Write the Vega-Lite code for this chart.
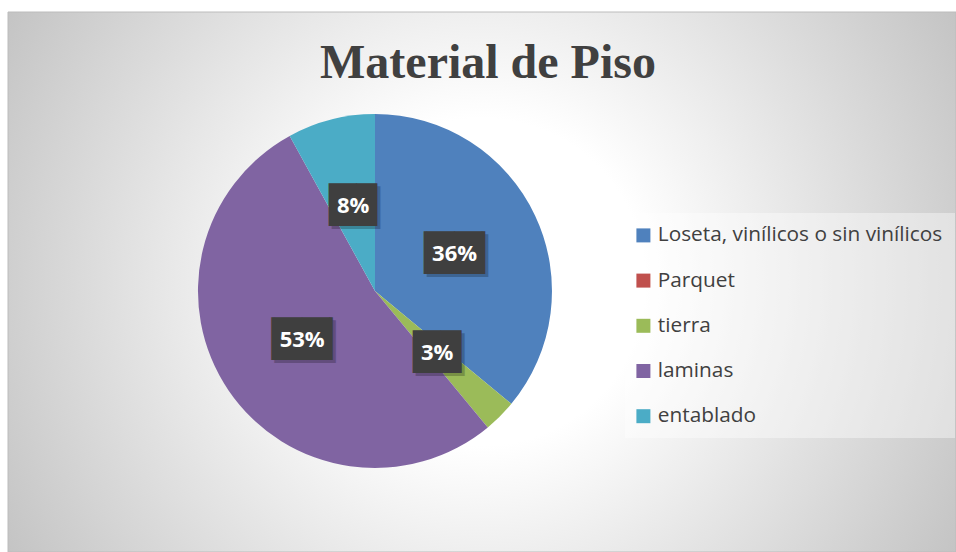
{
  "$schema": "https://vega.github.io/schema/vega-lite/v6.json",
  "width": 948,
  "height": 540,
  "padding": {"left": 8, "top": 12, "right": 0, "bottom": 0},
  "autosize": {"type": "none"},
  "background": "white",
  "config": {"view": {"stroke": null}},
  "title": {
    "text": "Material de Piso",
    "font": "Liberation Serif",
    "fontSize": 48,
    "fontWeight": "bold",
    "color": "#404040",
    "anchor": "middle",
    "frame": "group",
    "baseline": "alphabetic",
    "offset": -114,
    "dx": 6
  },
  "data": {
    "values": [
      {"material": "Loseta, vinílicos o sin vinílicos", "pct": 0.36, "idx": 1},
      {"material": "Parquet", "pct": 0.0, "idx": 2},
      {"material": "tierra", "pct": 0.03, "idx": 3},
      {"material": "laminas", "pct": 0.53, "idx": 4},
      {"material": "entablado", "pct": 0.08, "idx": 5}
    ]
  },
  "layer": [
    {
      "data": {"values": [{}]},
      "mark": {
        "type": "rect",
        "stroke": "#bcbcbc",
        "strokeWidth": 1,
        "fill": {
          "gradient": "radial",
          "x1": 0.5, "y1": 0.5, "r1": 0,
          "x2": 0.5, "y2": 0.5, "r2": 0.575,
          "stops": [
            {"offset": 0, "color": "#ffffff"},
            {"offset": 0.3, "color": "#ffffff"},
            {"offset": 1, "color": "#c4c4c4"}
          ]
        }
      },
      "encoding": {}
    },
    {
      "mark": {"type": "arc", "outerRadius": 177, "x": {"expr": "width * 0.3871"}, "y": {"expr": "height * 0.5167"}},
      "encoding": {
        "theta": {"field": "pct", "type": "quantitative", "stack": true},
        "order": {"field": "idx", "type": "quantitative"},
        "color": {
          "field": "material",
          "type": "nominal",
          "scale": {
            "domain": ["Loseta, vinílicos o sin vinílicos", "Parquet", "tierra", "laminas", "entablado"],
            "range": ["#4F81BD", "#C0504D", "#9BBB59", "#8064A2", "#4BACC6"]
          },
          "legend": {
            "title": null,
            "orient": "none",
            "legendX": 617,
            "legendY": 201,
            "fillColor": "rgba(255,255,255,0.4)",
            "padding": 12,
            "symbolType": "square",
            "symbolSize": 196,
            "symbolStrokeWidth": 0,
            "symbolOpacity": 1,
            "symbolOffset": -4,
            "labelFont": "Open Sans",
            "labelFontSize": 20.8,
            "labelColor": "#404040",
            "labelLimit": 400,
            "labelOffset": 4,
            "rowPadding": 23.2
          }
        }
      }
    },
    {
      "mark": {"type": "text", "radius": 88, "x": {"expr": "width * 0.3871"}, "y": {"expr": "height * 0.5167"}, "font": "DejaVu Sans", "fontSize": 36, "baseline": "middle", "align": "center", "color": "#000000", "opacity": 0.22, "dx": 3, "dy": 3},
      "encoding": {
        "theta": {"field": "pct", "type": "quantitative", "stack": true},
        "order": {"field": "idx", "type": "quantitative"},
        "detail": {"field": "material"},
        "text": {"condition": {"test": "datum.pct >= 0.1", "value": "▕██▏"}, "value": ""}
      }
    },
    {
      "mark": {"type": "text", "radius": 88, "x": {"expr": "width * 0.3871"}, "y": {"expr": "height * 0.5167"}, "font": "DejaVu Sans", "fontSize": 36, "baseline": "middle", "align": "center", "color": "#000000", "opacity": 0.22, "dx": 6.5, "dy": 3},
      "encoding": {
        "theta": {"field": "pct", "type": "quantitative", "stack": true},
        "order": {"field": "idx", "type": "quantitative"},
        "detail": {"field": "material"},
        "text": {"condition": {"test": "datum.pct > 0 && datum.pct < 0.1", "value": "█▊"}, "value": ""}
      }
    },
    {
      "mark": {"type": "text", "radius": 88, "x": {"expr": "width * 0.3871"}, "y": {"expr": "height * 0.5167"}, "font": "DejaVu Sans", "fontSize": 36, "baseline": "middle", "align": "center", "color": "#3f3f3f"},
      "encoding": {
        "theta": {"field": "pct", "type": "quantitative", "stack": true},
        "order": {"field": "idx", "type": "quantitative"},
        "detail": {"field": "material"},
        "text": {"condition": {"test": "datum.pct >= 0.1", "value": "▕██▏"}, "value": ""}
      }
    },
    {
      "mark": {"type": "text", "radius": 88, "x": {"expr": "width * 0.3871"}, "y": {"expr": "height * 0.5167"}, "font": "DejaVu Sans", "fontSize": 36, "baseline": "middle", "align": "center", "color": "#3f3f3f", "dx": 3.5},
      "encoding": {
        "theta": {"field": "pct", "type": "quantitative", "stack": true},
        "order": {"field": "idx", "type": "quantitative"},
        "detail": {"field": "material"},
        "text": {"condition": {"test": "datum.pct > 0 && datum.pct < 0.1", "value": "█▊"}, "value": ""}
      }
    },
    {
      "mark": {"type": "text", "radius": 88, "x": {"expr": "width * 0.3871"}, "y": {"expr": "height * 0.5167"}, "font": "Open Sans", "fontSize": 22, "fontWeight": "bold", "baseline": "middle", "align": "center", "color": "#ffffff"},
      "encoding": {
        "theta": {"field": "pct", "type": "quantitative", "stack": true},
        "order": {"field": "idx", "type": "quantitative"},
        "detail": {"field": "material"},
        "text": {"condition": {"test": "datum.pct > 0", "field": "pct", "type": "quantitative", "format": ".0%"}, "value": ""}
      }
    }
  ]
}
